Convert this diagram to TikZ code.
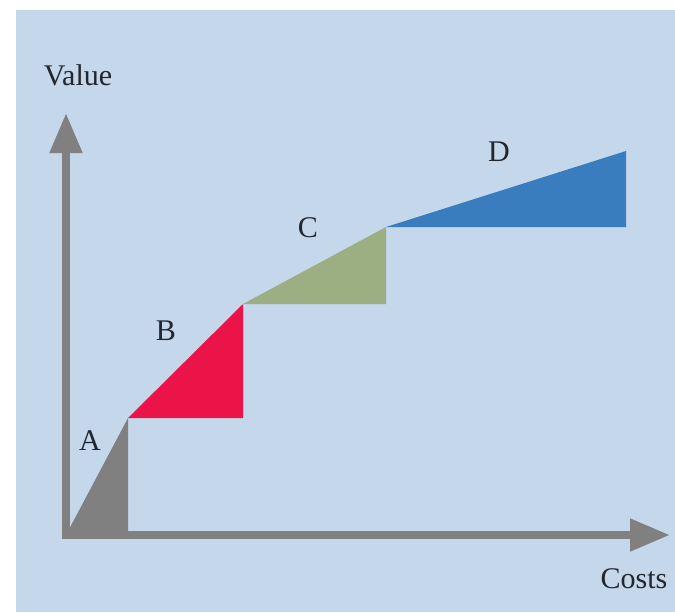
\documentclass[tikz,border=0pt]{standalone}
\usepackage{fontspec}
\setmainfont{Liberation Serif}
\usetikzlibrary{arrows.meta}
\definecolor{bgblue}{HTML}{C5D7EA}
\definecolor{axisgray}{HTML}{808080}
\definecolor{segred}{HTML}{EA1448}
\definecolor{seggreen}{HTML}{9BAF82}
\definecolor{segblue}{HTML}{3A7DBE}
\definecolor{labelcol}{HTML}{22262E}
\tikzset{axtip/.tip={Triangle[length=20pt,width=15.5pt]}}
\begin{document}
\begin{tikzpicture}[x=0.5pt,y=-0.5pt,
  lbl/.style={font=\fontsize{15}{18}\selectfont, text=labelcol, inner sep=0pt},
  axis/.style={draw=axisgray, line width=4pt, line join=miter}]
\useasboundingbox (0,0) rectangle (675,612);
\fill[bgblue] (16,10) rectangle (675,612);
% key points
\coordinate (ytip) at (66,113);
\coordinate (o) at (66,535);
\coordinate (xtip) at (670,535);
\coordinate (a1) at (128,535);
\coordinate (a2) at (128,418);
\coordinate (b1) at (243,418);
\coordinate (b2) at (243,304);
\coordinate (c1) at (386,304);
\coordinate (c2) at (386,227);
\coordinate (d1) at (626,227);
\coordinate (d2) at (626,151);
% segments
\fill[axisgray] (o) -- (a1) -- (a2) -- cycle;
\fill[segred] (a2) -- (b1) -- (b2) -- cycle;
\fill[seggreen] (b2) -- (c1) -- (c2) -- cycle;
\fill[segblue] (c2) -- (d1) -- (d2) -- cycle;
% axes
\draw[axis, axtip-axtip] (ytip) -- (o) -- (xtip);
% labels
\node[lbl] (value) at (78,75) {Value};
\node[lbl] (costs) at (634,579) {Costs};
\node[lbl] (la) at (90,441) {A};
\node[lbl] (lb) at (166,331) {B};
\node[lbl] (lc) at (308,228) {C};
\node[lbl] (ld) at (499,152) {D};
\end{tikzpicture}
\end{document}
